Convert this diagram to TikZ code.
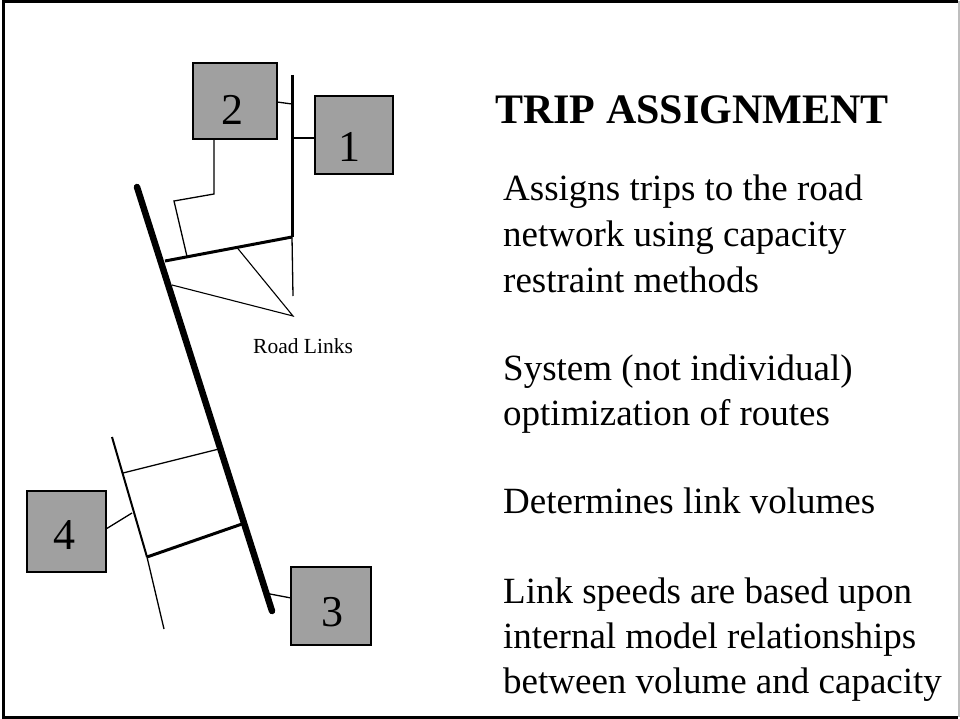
\documentclass[tikz,border=0pt]{standalone}
\usepackage{fontspec}
\setmainfont{Liberation Serif}
\definecolor{zonefill}{RGB}{160,160,160}
\definecolor{edgegray}{RGB}{190,190,190}
\begin{document}
\begin{tikzpicture}[x=1pt,y=-1pt,
  zone/.style={draw=black,line width=1.5pt,fill=zonefill,inner sep=0pt,anchor=center},
  digit/.style={inner sep=0pt,font=\fontsize{44}{50}\selectfont},
  arterial/.style={line width=6.5pt,line cap=round},
  collector/.style={line width=3pt},
  minor/.style={line width=1.3pt},
  body/.style={anchor=base west,inner sep=0pt,font=\fontsize{37}{44}\selectfont},
  title/.style={anchor=base west,inner sep=0pt,font=\fontsize{42}{50}\selectfont\bfseries}]
\useasboundingbox (0,0) rectangle (960,719);
% slide frame
\draw[line width=3pt] (958,1.5) -- (3,1.5) -- (3,717) -- (958,717);
\draw[edgegray,line width=1.5pt] (959,1.5) -- (959,717);

% zones
\node[zone,minimum width=84pt,minimum height=76pt] (z2) at (235,101) {};
\node[zone,minimum width=78pt,minimum height=78pt] (z1) at (354,135) {};
\node[zone,minimum width=79pt,minimum height=81pt] (z4) at (66.5,531.5) {};
\node[zone,minimum width=80pt,minimum height=78pt] (z3) at (331,606) {};
\node[digit] (d2) at ([shift={(-3,9)}]z2.center) {2};
\node[digit] (d1) at ([shift={(-5,12)}]z1.center) {1};
\node[digit] (d4) at ([shift={(-2,4)}]z4.center) {4};
\node[digit] (d3) at ([shift={(1,6)}]z3.center) {3};

% road network points
\coordinate (aN) at (137,187);
\coordinate (aS) at (272,611);
\coordinate (vN) at (292,75);
\coordinate (vS) at (292,237);
\coordinate (vT) at (293,296);
\coordinate (uW) at (165,261);
\coordinate (j2) at (277,102);
\coordinate (j2v) at (292,104);
\coordinate (j1v) at (292,138);
\coordinate (j1) at (315,138);
\coordinate (c2a) at (214,139);
\coordinate (c2b) at (214,194);
\coordinate (c2c) at (174,201);
\coordinate (c2d) at (187,256.5);
\coordinate (rl1) at (172,285);
\coordinate (rl2) at (237,247.5);
\coordinate (rlT) at (293,316);
\coordinate (wN) at (112,437);
\coordinate (wM) at (147,557);
\coordinate (wS) at (164,629);
\coordinate (r1W) at (123,473);
\coordinate (r1E) at (219,449);
\coordinate (r2E) at (242,524);
\coordinate (j4a) at (106,529);
\coordinate (j4b) at (132,513);
\coordinate (j3a) at (270,594);
\coordinate (j3b) at (291,598);

% roads
\draw[arterial] (aN) -- (aS);
\draw[collector] (vN) -- (vS);
\draw[collector] (uW) -- (vS);
\draw[minor] (vS) -- (vT);
\draw[minor] (j2) -- (j2v);
\draw[minor] (j1v) -- (j1);
\draw[minor] (c2a) -- (c2b) -- (c2c) -- (c2d);
\draw[line width=2pt] (wN) -- (wM);
\draw[minor] (wM) -- (wS);
\draw[minor] (r1W) -- (r1E);
\draw[collector] (wM) -- (r2E);
\draw[minor] (j4a) -- (j4b);
\draw[minor] (j3a) -- (j3b);

% pointer lines to the label
\draw[line width=1.1pt] (rl1) -- (rlT) -- (rl2);
\node[anchor=base west,inner sep=0pt,font=\fontsize{21.5}{26}\selectfont] (rlab) at (253,353) {Road Links};

% text panel
\node[title] (ttl) at (495,124) {TRIP ASSIGNMENT};
\node[body] (b1) at (503,201) {Assigns trips to the road};
\node[body] (b2) at (503,247) {network using capacity};
\node[body] (b3) at (503,292) {restraint methods};
\node[body] (b4) at (503,380) {System (not individual)};
\node[body] (b5) at (503,425) {optimization of routes};
\node[body] (b6) at (503,513) {Determines link volumes};
\node[body] (b7) at (503,603) {Link speeds are based upon};
\node[body] (b8) at (503,648) {internal model relationships};
\node[body] (b9) at (503,693) {between volume and capacity};
\end{tikzpicture}
\end{document}
